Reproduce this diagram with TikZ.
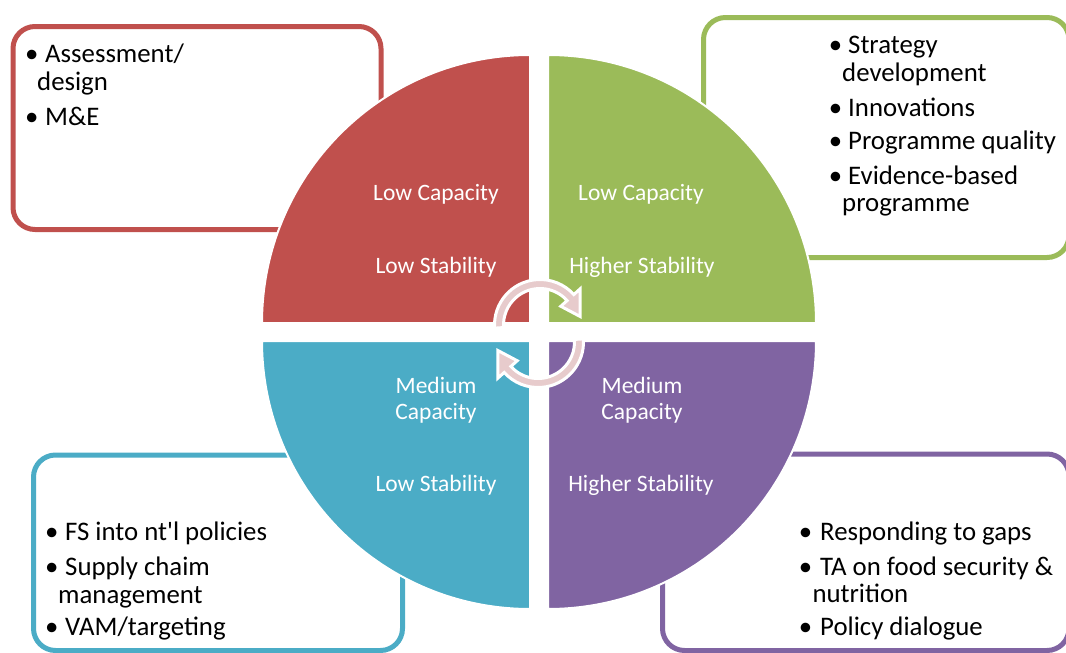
\documentclass[tikz,border=0pt]{standalone}
\usepackage{fontspec}
\setmainfont{Carlito}
\definecolor{qred}{RGB}{192,80,77}
\definecolor{qgreen}{RGB}{155,187,89}
\definecolor{qblue}{RGB}{75,172,198}
\definecolor{qpurple}{RGB}{128,100,162}
\definecolor{cyclepink}{RGB}{231,203,204}
\tikzset{
  infobox/.style={line width=5pt, rounded corners=22pt, fill=white},
  quadrant/.style={draw=white, line width=2pt},
  itemtext/.style={anchor=base west, inner sep=0pt, font=\fontsize{26.8}{28}\selectfont},
  bulletmark/.style={anchor=base, inner sep=0pt, font=\fontsize{26.8}{28}\selectfont},
  quadlabel/.style={anchor=base, inner sep=0pt, text=white, font=\fontsize{23.5}{26}\selectfont},
  cyclearrow/.style={fill=cyclepink, draw=white, line width=3pt, line join=miter},
}
\begin{document}
\begin{tikzpicture}[x=1pt, y=1pt]
\useasboundingbox (0,0) rectangle (1066,-653);

% rounded text boxes behind the circle
\draw[infobox, draw=qred] (13,-26.5) rectangle (381,-229.5);
\draw[infobox, draw=qgreen] (703.5,-17.5) rectangle (1069,-257.5);
\draw[infobox, draw=qblue] (33.5,-455) rectangle (402.5,-650.5);
\draw[infobox, draw=qpurple] (662.5,-454) rectangle (1069,-650.5);

% four quarter discs
\filldraw[quadrant, fill=qred] (530,-323) -- (262,-323) arc[start angle=180, end angle=90, radius=268] -- cycle;
\filldraw[quadrant, fill=qgreen] (548,-323) -- (548,-55) arc[start angle=90, end angle=0, radius=268] -- cycle;
\filldraw[quadrant, fill=qblue] (530,-341) -- (530,-609) arc[start angle=270, end angle=180, radius=268] -- cycle;
\filldraw[quadrant, fill=qpurple] (548,-341) -- (816,-341) arc[start angle=0, end angle=-90, radius=268] -- cycle;

% circular arrows in the centre
\begin{scope}[shift={(540,-325)}]
  \filldraw[cyclearrow] (184:45.5) arc[start angle=184, end angle=42, radius=45.5]
    -- (42:54) -- (12:41) -- (42:28) -- (42:36.5)
    arc[start angle=42, end angle=184, radius=36.5] -- cycle;
\end{scope}
\begin{scope}[shift={(538,-342)}, rotate=180]
  \filldraw[cyclearrow] (184:45.5) arc[start angle=184, end angle=42, radius=45.5]
    -- (42:54) -- (12:41) -- (42:28) -- (42:36.5)
    arc[start angle=42, end angle=184, radius=36.5] -- cycle;
\end{scope}

% quadrant labels
\node[quadlabel] (rcap) at (436,-200.5) {Low Capacity};
\node[quadlabel] (rstab) at (436,-273) {Low Stability};
\node[quadlabel] (gcap) at (641,-200.5) {Low Capacity};
\node[quadlabel] (gstab) at (642,-273) {Higher Stability};
\node[quadlabel] (bcapa) at (436,-393.3) {Medium};
\node[quadlabel] (bcapb) at (436,-419) {Capacity};
\node[quadlabel] (bstab) at (436,-491.7) {Low Stability};
\node[quadlabel] (pcapa) at (642,-393.3) {Medium};
\node[quadlabel] (pcapb) at (642,-419) {Capacity};
\node[quadlabel] (pstab) at (641,-491.7) {Higher Stability};

% red box items
\node[bulletmark] (rb1) at (31.7,-62.7) {•};
\node[itemtext] (r1) at (45,-62.7) {Assessment/};
\node[itemtext] (r1b) at (37,-90) {design};
\node[bulletmark] (rb2) at (31.7,-125) {•};
\node[itemtext] (r2) at (45,-125) {M\&E};

% green box items
\node[bulletmark] (gb1) at (835.5,-53.3) {•};
\node[itemtext] (g1) at (848,-53.3) {Strategy};
\node[itemtext] (g1b) at (842,-81.7) {development};
\node[bulletmark] (gb2) at (835.5,-116) {•};
\node[itemtext] (g2) at (848,-116) {Innovations};
\node[bulletmark] (gb3) at (835.5,-149.3) {•};
\node[itemtext] (g3) at (848,-149.3) {Programme quality};
\node[bulletmark] (gb4) at (835.5,-184) {•};
\node[itemtext] (g4) at (848,-184) {Evidence-based};
\node[itemtext] (g4b) at (842,-211.7) {programme};

% blue box items
\node[bulletmark] (bb1) at (51.7,-540) {•};
\node[itemtext] (b1) at (65,-540) {FS into nt\textquotesingle l policies};
\node[bulletmark] (bb2) at (51.7,-575) {•};
\node[itemtext] (b2) at (65,-575) {Supply chaim};
\node[itemtext] (b2b) at (58,-603.3) {management};
\node[bulletmark] (bb3) at (51.7,-635) {•};
\node[itemtext] (b3) at (65,-635) {VAM/targeting};

% purple box items
\node[bulletmark] (pb1) at (805.5,-540) {•};
\node[itemtext] (p1) at (820,-540) {Responding to gaps};
\node[bulletmark] (pb2) at (805.5,-575) {•};
\node[itemtext] (p2) at (820,-575) {TA on food security \&};
\node[itemtext] (p2b) at (812.3,-602) {nutrition};
\node[bulletmark] (pb3) at (805.5,-635) {•};
\node[itemtext] (p3) at (820,-635) {Policy dialogue};
\end{tikzpicture}
\end{document}
